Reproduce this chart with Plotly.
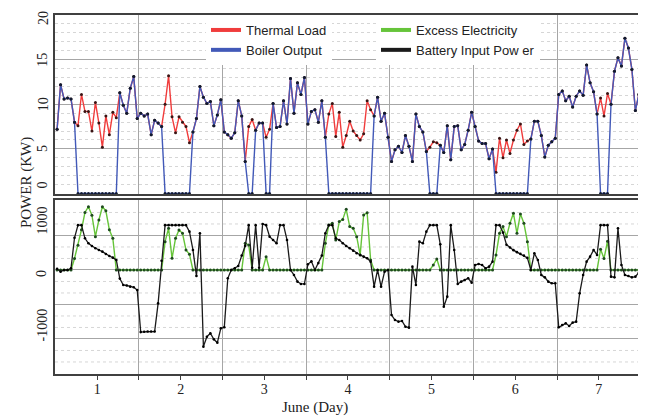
import plotly.graph_objects as go

day_labels = ["1", "2", "3", "4", "5", "6", "7"]
day_centers = [12, 36, 60, 84, 108, 132, 156]
day_bounds = [24, 48, 72, 96, 120, 144]
hours = [h + 0.5 for h in range(168)]

top_tick_values = [0, 5, 10, 15, 20]
bottom_tick_values = [-1000, 0, 1000]

thermal_load = [
    7.2, 12.2, 10.6, 10.7, 10.6, 8.0, 7.6, 11.1, 9.2, 9.2, 7.0, 10.2, 7.9, 5.2, 8.7, 6.6, 9.1, 8.5, 11.3, 9.9, 9.0, 11.8, 13.1, 8.4,
    9.0, 8.7, 8.9, 6.6, 8.2, 7.9, 7.5, 10.0, 13.2, 8.6, 6.8, 8.6, 8.0, 7.5, 5.7, 6.9, 8.4, 12.0, 10.8, 10.1, 10.3, 7.6, 8.8, 10.5,
    6.9, 6.6, 6.2, 6.8, 10.4, 8.7, 3.6, 7.5, 8.3, 7.1, 7.9, 7.9, 6.3, 7.2, 10.1, 7.4, 7.5, 10.4, 7.8, 12.9, 9.0, 12.4, 11.1, 13.0,
    7.8, 9.2, 9.4, 8.0, 10.4, 6.3, 8.9, 10.1, 6.4, 9.1, 5.2, 6.5, 8.1, 7.0, 6.5, 6.0, 6.7, 10.4, 9.4, 8.7, 10.8, 8.1, 9.0, 6.3,
    3.6, 4.9, 5.3, 4.6, 6.5, 5.3, 3.6, 8.9, 7.5, 6.9, 4.7, 5.2, 5.8, 5.7, 5.4, 4.6, 7.6, 3.8, 7.5, 7.6, 4.9, 5.5, 7.1, 9.1,
    7.5, 5.9, 5.6, 5.6, 3.9, 5.0, 2.4, 6.2, 4.0, 6.0, 4.5, 6.0, 7.1, 7.8, 5.5, 5.9, 6.1, 8.1, 8.1, 6.5, 4.1, 5.4, 5.8, 6.2,
    11.1, 11.5, 10.4, 10.9, 9.7, 10.9, 11.5, 11.0, 14.4, 12.4, 11.4, 8.9, 10.7, 8.7, 11.2, 10.0, 13.7, 15.2, 14.3, 17.4, 16.3, 13.9, 9.3, 11.1,
]

boiler_output = [
    7.2, 12.2, 10.6, 10.7, 10.6, 8.0, 0, 0, 0, 0, 0, 0, 0, 0, 0, 0, 0, 0, 11.3, 9.9, 9.0, 11.8, 13.1, 8.4,
    9.0, 8.7, 8.9, 6.6, 8.2, 7.9, 7.5, 0, 0, 0, 0, 0, 0, 0, 0, 6.9, 8.4, 12.0, 10.8, 10.1, 10.3, 7.6, 8.8, 10.5,
    6.9, 6.6, 6.2, 6.8, 10.4, 8.7, 3.6, 0, 0, 7.1, 7.9, 7.9, 0, 0, 10.1, 7.4, 7.5, 10.4, 7.8, 12.9, 9.0, 12.4, 11.1, 13.0,
    7.8, 9.2, 9.4, 8.0, 10.4, 6.3, 0, 0, 0, 0, 0, 0, 0, 0, 0, 0, 0, 0, 0, 8.7, 10.8, 8.1, 9.0, 6.3,
    3.6, 4.9, 5.3, 4.6, 6.5, 5.3, 3.6, 8.9, 7.5, 6.9, 4.7, 0, 0, 0, 5.4, 4.6, 7.6, 3.8, 7.5, 7.6, 4.9, 5.5, 7.1, 9.1,
    7.5, 5.9, 5.6, 5.6, 3.9, 5.0, 0, 0, 0, 0, 0, 0, 0, 0, 0, 0, 6.1, 8.1, 8.1, 6.5, 4.1, 5.4, 5.8, 6.2,
    11.1, 11.5, 10.4, 10.9, 9.7, 10.9, 11.5, 11.0, 14.4, 12.4, 11.4, 8.9, 0, 0, 0, 10.0, 13.7, 15.2, 14.3, 17.4, 16.3, 13.9, 9.3, 11.1,
]

excess_electricity = [
    0, 0, 0, 0, 0, 200, 430, 700, 1000, 1100, 950, 580, 870, 1100, 1030, 700, 550, 0, 0, 0, 0, 0, 0, 0,
    0, 0, 0, 0, 0, 0, 0, 493, 725, 203, 551, 696, 638, 348, 273, 0, 0, 0, 0, 0, 0, 0, 0, 0,
    0, 0, 0, 0, 0, 0, 464, 435, 0, 0, 0, 0, 232, 0, 0, 0, 0, 0, 0, 0, 0, 0, 0, 0,
    0, 0, 0, 0, 0, 464, 783, 812, 522, 841, 880, 1055, 754, 725, 580, 261, 957, 997, 174, 0, 0, 0, 0, 0,
    0, 0, 0, 0, 0, 0, 0, 0, 0, 0, 0, 0, 87, 191, 0, 0, 0, 0, 0, 0, 0, 0, 0, 0,
    0, 0, 0, 0, 0, 0, 261, 638, 754, 580, 812, 986, 638, 974, 812, 493, 0, 0, 0, 0, 0, 0, 0, 0,
    0, 0, 0, 0, 0, 0, 0, 0, 0, 0, 0, 0, 360, 200, 500, 0, 0, 0, 0, 0, 0, 0, 0, 0,
]

battery_input_power = [
    20, -30, 0, 0, 30, 560, 780, 780, 551, 464, 417, 377, 348, 319, 278, 243, 214, 174, -150, -261, -270, -290, -300, -348,
    -1080, -1075, -1070, -1070, -1070, -580, 160, 780, 780, 780, 780, 780, 780, 780, 667, 348, -104, 638, -1333, -1160, -1100, -1206, -1264, -1014,
    -997, -145, 0, 30, 70, 250, 420, 780, 40, 780, 40, 800, 780, 580, 522, 464, 780, 780, 522, 0, -87, -203, -243, -243,
    100, 150, 0, 120, 250, 640, 780, 780, 551, 522, 464, 417, 377, 336, 290, 261, 232, 203, 145, -290, 0, -290, -30, 0,
    -783, -870, -899, -887, -986, -1003, 58, -261, 493, 464, 667, 780, 780, 780, 446, -638, -464, 780, 348, -243, -203, -174, -145, -220,
    87, 104, 87, 29, 58, 145, 780, 780, 650, 440, 390, 345, 310, 280, 250, 210, 0, 290, 174, -87, -128, -203, -232, -232,
    -997, -957, -928, -974, -916, -899, -406, -87, 145, 232, 348, 261, 780, 780, 780, -116, -128, 725, 87, -87, -104, -128, -116, -46,
]

RED = "#f03c3c"
BLUE = "#4259b8"
GREEN = "#66c43a"
BLACK = "#1a1a1a"
GRID = "#a6a6a6"
MINOR = "#d6d6d6"
FRAME = "#404040"
SERIF = "Liberation Serif, Times New Roman, serif"
SANS = "Liberation Sans, Arial, sans-serif"

# The page body keeps the browser's default 8 px margin, so the figure is
# sized 8 px smaller and its margins are shifted to keep the panels in place.
PAGE = 8
W, H = 646 - PAGE, 420 - PAGE
ML, MR, MT, MB = 55 - PAGE, 4, 15 - PAGE, 46
PW, PH = W - ML - MR, H - MT - MB  # 587 x 359


def px_x(p):
    return (p - PAGE - ML) / PW


def px_y(p):
    return (H - MB - (p - PAGE)) / PH


fig = go.Figure()

# top panel
fig.add_trace(go.Scatter(x=hours, y=thermal_load, mode="lines+markers", name="Thermal Load",
                         line=dict(color=RED, width=1.4), marker=dict(color="#3a1414", size=3),
                         xaxis="x", yaxis="y", showlegend=False, cliponaxis=False))
fig.add_trace(go.Scatter(x=hours, y=boiler_output, mode="lines+markers", name="Boiler Output",
                         line=dict(color=BLUE, width=1.4), marker=dict(color="#111a30", size=3),
                         xaxis="x", yaxis="y", showlegend=False, cliponaxis=False))

# bottom panel
fig.add_trace(go.Scatter(x=hours, y=excess_electricity, mode="lines+markers", name="Excess Electricity",
                         line=dict(color=GREEN, width=1.4), marker=dict(color="#1e4a1e", size=3),
                         xaxis="x2", yaxis="y2", showlegend=False))
fig.add_trace(go.Scatter(x=hours, y=battery_input_power, mode="lines+markers", name="Battery Input Pow er",
                         line=dict(color=BLACK, width=1.3), marker=dict(color="#000000", size=2.6),
                         xaxis="x2", yaxis="y2", showlegend=False))

# legend entries (two columns)
legend_items = [("Thermal Load", RED, "legend"), ("Boiler Output", BLUE, "legend"),
                ("Excess Electricity", GREEN, "legend2"), ("Battery Input Pow er", BLACK, "legend2")]
for name, col, leg in legend_items:
    fig.add_trace(go.Scatter(x=[None], y=[None], mode="lines", name=name,
                             line=dict(color=col, width=4), legend=leg, xaxis="x", yaxis="y"))

legend_style = dict(xanchor="left", yanchor="top", bgcolor="white", tracegroupgap=0,
                    font=dict(family=SANS, size=13, color="#222222"), borderwidth=0)

y2_range = [-1809, 1217]
dotted = [v for v in range(-1800, 1201, 200) if v % 600 != 0]
shapes = [dict(type="line", xref="x2 domain", yref="y2", x0=0, x1=1, y0=v, y1=v,
               line=dict(color=MINOR, width=1, dash="dot"), layer="below") for v in dotted]

axis_common = dict(showline=True, mirror=True, linecolor=FRAME, linewidth=1.5, zeroline=False, automargin=False)

top_dom = [px_y(194), 1]
bot_dom = [0, px_y(200)]

# rotated y tick labels, nudged to where the reference prints them
label_font = dict(family=SERIF, size=14, color="#222222")
top_nudge = {0: 8, 5: 0, 10: 0, 15: 0, 20: -3}
bottom_nudge = {-1000: 2, 0: -4, 1000: -8}
tick_annotations = []
for v in top_tick_values:
    tick_annotations.append(dict(text=str(v), xref="paper", yref="y", x=px_x(43), y=v, yshift=top_nudge[v],
                                 xanchor="center", yanchor="middle", textangle=-90, showarrow=False,
                                 font=label_font))
for v in bottom_tick_values:
    tick_annotations.append(dict(text=str(v), xref="paper", yref="y2", x=px_x(42), y=v, yshift=bottom_nudge[v],
                                 xanchor="center", yanchor="middle", textangle=-90, showarrow=False,
                                 font=label_font))

fig.update_layout(
    width=W, height=H,
    margin=dict(l=ML, r=MR, t=MT, b=MB, pad=0),
    paper_bgcolor="white", plot_bgcolor="white",
    font=dict(family=SERIF, size=14, color="#222222"),
    shapes=shapes,
    xaxis=dict(domain=[0, 1], range=[-0.1, 168.4], anchor="y", tickvals=day_centers,
               showticklabels=False, ticks="", showgrid=False,
               minor=dict(tickvals=day_bounds, showgrid=True, gridcolor=GRID, gridwidth=1), **axis_common),
    yaxis=dict(domain=top_dom, range=[-0.05, 20], anchor="x", tickvals=top_tick_values,
               showticklabels=False, showgrid=True, gridcolor=GRID, gridwidth=1,
               minor=dict(dtick=1, showgrid=True, gridcolor=MINOR, griddash="dot"), ticks="", **axis_common),
    xaxis2=dict(domain=[0, 1], range=[-0.1, 168.4], anchor="y2", tickvals=day_centers, ticktext=day_labels,
                ticks="outside", ticklen=4, tickcolor=FRAME, showgrid=False, tickfont=dict(size=14),
                ticklabelstandoff=-3,
                minor=dict(tickvals=day_bounds, showgrid=True, gridcolor=GRID, gridwidth=1,
                           ticks="outside", ticklen=4, tickcolor=FRAME), **axis_common),
    yaxis2=dict(domain=bot_dom, range=y2_range, anchor="x2", tickvals=bottom_tick_values,
                showticklabels=False, showgrid=False,
                minor=dict(tickvals=[-1200, -600, 600], showgrid=True, gridcolor=GRID, gridwidth=1),
                ticks="", showline=True, mirror=True, linecolor=FRAME, linewidth=1.5, automargin=False,
                zeroline=True, zerolinecolor=GRID, zerolinewidth=1),
    legend=dict(x=px_x(206), y=px_y(15), **legend_style),
    legend2=dict(x=px_x(376), y=px_y(15), **legend_style),
    annotations=tick_annotations + [
        dict(text="POWER (KW)", xref="paper", yref="paper", x=px_x(26), y=px_y(183),
             xanchor="center", yanchor="middle",
             textangle=-90, showarrow=False, font=dict(family=SERIF, size=15, color="#222222")),
        dict(text="June (Day)", xref="paper", yref="paper", x=px_x(315), y=px_y(408),
             xanchor="center", yanchor="middle",
             showarrow=False, font=dict(family=SERIF, size=15, color="#222222")),
    ],
)

fig.write_html("out.html")
